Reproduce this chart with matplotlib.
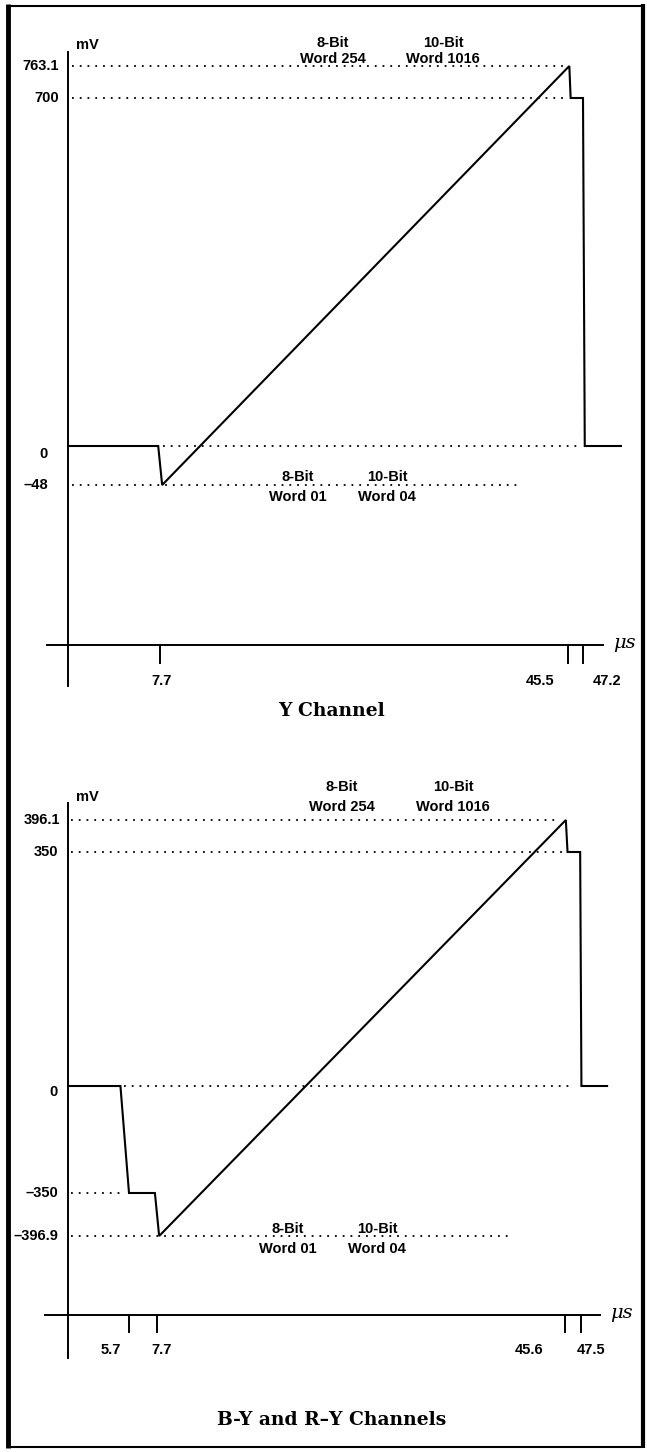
import numpy as np
import matplotlib
matplotlib.use("Agg")
import matplotlib.pyplot as plt
from matplotlib.transforms import Affine2D, blended_transform_factory

W, H = 647, 1452

# ---- Y channel data (time in us, level in mV)
y_time = [0, 7.55, 7.9, 45.65, 45.8, 47.2, 47.4, 51.5]
y_mv = [0, 0, -48, 763.1, 700, 700, 0, 0]
y_levels = [763.1, 700, 0, -48]
y_level_labels = ["763.1", "700", "0", "\u201348"]
y_ticks = [7.7, 45.5, 47.2]
y_tick_labels = ["7.7", "45.5", "47.2"]

# ---- B-Y / R-Y channel data
c_time = [0, 4.9, 5.7, 7.55, 7.9, 45.7, 45.9, 47.4, 47.55, 50.6]
c_mv = [0, 0, -350, -350, -396.9, 396.1, 350, 350, 0, 0]
c_levels = [396.1, 350, 0, -350, -396.9]
c_level_labels = ["396.1", "350", "0", "\u2013350", "\u2013396.9"]
c_ticks = [5.7, 7.7, 45.6, 47.5]
c_tick_labels = ["5.7", "7.7", "45.6", "47.5"]

word_top = [("8-Bit", "Word 254"), ("10-Bit", "Word 1016")]
word_bottom = [("8-Bit", "Word 01"), ("10-Bit", "Word 04")]

# ---- layout of each schematic panel (image pixels, y down)
panels = [
    dict(time=y_time, mv=y_mv, levels=y_levels, level_labels=y_level_labels,
         ticks=y_ticks, tick_labels=y_tick_labels, title="Y Channel",
         xk=[0, 7.7, 45.5, 47.2], xp=[68, 160, 568, 583],
         yk=[-48, 0, 700, 763.1], yp=[485, 446, 98, 66],
         dots=[(0.3, 45.0), (0.3, 45.15), (7.95, 46.9), (0.3, 40.9)],
         lab_right=[59, 59, 48, 48], lab_dy=[0, 0, 8, 0],
         tick_dx=[2, -28, 24],
         ax_top=52, ax_bot=686, xax_y=645, xax_x=(47, 603), tick_len=18,
         tick_lab_y=681, mu_x=613, title_y=711, mv_y=45,
         top_words=[(333, 43, 59), (443, 43, 59)],
         bot_words=[(298, 477, 497), (387, 477, 497)]),
    dict(time=c_time, mv=c_mv, levels=c_levels, level_labels=c_level_labels,
         ticks=c_ticks, tick_labels=c_tick_labels, title="B-Y and R\u2013Y Channels",
         xk=[0, 5.7, 7.7, 45.6, 47.5], xp=[68, 129, 157, 565, 581],
         yk=[-396.9, -350, 0, 350, 396.1], yp=[1236, 1193, 1086, 852, 820],
         dots=[(0.3, 44.9), (0.3, 45.3), (5.2, 46.55), (0.3, 5.2), (0.3, 40.66)],
         lab_right=[60, 58, 58, 58, 58], lab_dy=[0, 0, 6, 0, 0],
         tick_dx=[-18, 5, -36, 10],
         ax_top=803, ax_bot=1358, xax_y=1315, xax_x=(45, 600), tick_len=17,
         tick_lab_y=1350, mu_x=610, title_y=1420, mv_y=797,
         top_words=[(342, 787, 807), (453, 787, 807)],
         bot_words=[(288, 1229, 1249), (377, 1229, 1249)]),
]

SANS = ["Liberation Sans", "DejaVu Sans"]
SERIF = ["DejaVu Serif"]


def piecewise(xk, yk):
    xk = np.asarray(xk, float)
    yk = np.asarray(yk, float)
    s0 = (yk[1] - yk[0]) / (xk[1] - xk[0])
    s1 = (yk[-1] - yk[-2]) / (xk[-1] - xk[-2])

    def f(v):
        v = np.asarray(v, float)
        out = np.interp(v, xk, yk)
        out = np.where(v < xk[0], yk[0] + (v - xk[0]) * s0, out)
        out = np.where(v > xk[-1], yk[-1] + (v - xk[-1]) * s1, out)
        return out
    return f


fig = plt.figure(figsize=(W / 100, H / 100), dpi=100)
px = Affine2D().scale(1 / W, -1 / H).translate(0, 1) + fig.transFigure

# page frame
for (x0, y0, x1, y1, lw) in [(8, 4, 8, 1448, 3.5), (8, 6, 643, 6, 1.5),
                             (643, 4, 643, 1448, 3.0), (8, 1447, 643, 1447, 1.5)]:
    fig.add_artist(plt.Line2D([x0, x1], [y0, y1], transform=px, color="black",
                              lw=lw, solid_capstyle="butt"))

for p in panels:
    ax = fig.add_axes([0, 0, 1, 1])
    ax.patch.set_alpha(0)
    ax.axis("off")
    fx, ix = piecewise(p["xk"], p["xp"]), piecewise(p["xp"], p["xk"])
    ymap = [-v for v in p["yp"]]
    fy, iy = piecewise(p["yk"], ymap), piecewise(ymap, p["yk"])
    ax.set_xscale("function", functions=(fx, ix))
    ax.set_yscale("function", functions=(fy, iy))
    ax.set_xlim(float(ix(0)), float(ix(W)))
    ax.set_ylim(float(iy(-H)), float(iy(0)))

    # waveform
    ax.plot(p["time"], p["mv"], color="black", lw=1.5, solid_joinstyle="miter")

    # dotted reference levels
    for lev, (t0, t1) in zip(p["levels"], p["dots"]):
        ax.plot([t0, t1], [lev, lev], color="black", lw=1.3,
                linestyle=(0, (1, 3.3)))

    # level labels
    lab_tr = blended_transform_factory(px, ax.transData)
    for lev, lab, xr, dy in zip(p["levels"], p["level_labels"],
                                p["lab_right"], p["lab_dy"]):
        off = Affine2D().translate(0, -dy)
        ax.text(xr, lev, lab, transform=lab_tr + off, ha="right", va="center",
                family=SANS, weight="bold", fontsize=10.5)

    # axes lines
    ax.add_line(plt.Line2D([p["xp"][0]] * 2, [p["ax_top"], p["ax_bot"]],
                           transform=px, color="black", lw=1.4))
    ax.add_line(plt.Line2D(list(p["xax_x"]), [p["xax_y"]] * 2,
                           transform=px, color="black", lw=1.4))
    ax.text(p["mu_x"], p["xax_y"] - 2, "\u03bcs", transform=px, ha="left",
            va="center", family=SERIF, style="italic", fontsize=14)
    ax.text(p["xp"][0] + 8, p["mv_y"], "mV", transform=px, ha="left",
            va="center", family=SANS, weight="bold", fontsize=10.5)

    # x ticks
    tick_tr = blended_transform_factory(ax.transData, px)
    for t, lab, dx in zip(p["ticks"], p["tick_labels"], p["tick_dx"]):
        ax.plot([t, t], [p["xax_y"], p["xax_y"] + p["tick_len"]],
                transform=tick_tr, color="black", lw=1.4)
        ax.text(t, p["tick_lab_y"], lab, transform=tick_tr + Affine2D().translate(dx, 0),
                ha="center", va="center", family=SANS, weight="bold", fontsize=10.5)

    # word annotations
    for (l1, l2), (xc, y1, y2) in zip(word_top, p["top_words"]):
        ax.text(xc, y1, l1, transform=px, ha="center", va="center",
                family=SANS, weight="bold", fontsize=10.5)
        ax.text(xc, y2, l2, transform=px, ha="center", va="center",
                family=SANS, weight="bold", fontsize=10.5)
    for (l1, l2), (xc, y1, y2) in zip(word_bottom, p["bot_words"]):
        ax.text(xc, y1, l1, transform=px, ha="center", va="center",
                family=SANS, weight="bold", fontsize=10.5)
        ax.text(xc, y2, l2, transform=px, ha="center", va="center",
                family=SANS, weight="bold", fontsize=10.5)

    ax.text(332, p["title_y"], p["title"], transform=px, ha="center",
            va="center", family=SERIF, weight="bold", fontsize=13.5)

fig.savefig("out.png", dpi=100)
